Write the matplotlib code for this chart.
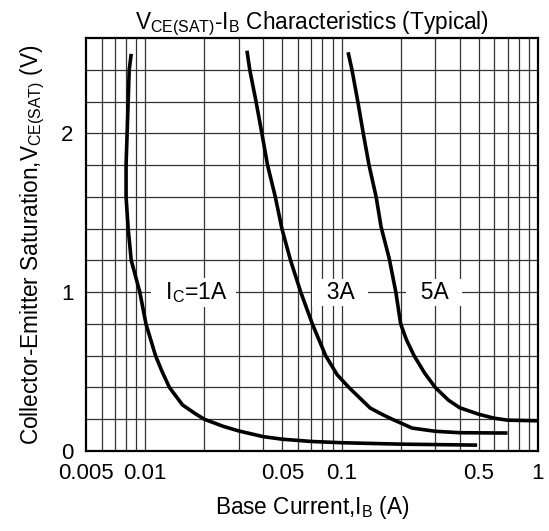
import matplotlib
matplotlib.use("Agg")
import matplotlib.pyplot as plt
from matplotlib.ticker import FixedLocator, NullFormatter

plt.rcParams["font.family"] = ["Liberation Sans", "DejaVu Sans"]
plt.rcParams["mathtext.default"] = "regular"

# Curves (IB in A, VCE(sat) in V)
ib_1a = [0.0085, 0.0083, 0.0082, 0.0081, 0.0080, 0.0080, 0.0082, 0.0085, 0.0094, 0.0101,
         0.0113, 0.0122, 0.0133, 0.0155, 0.0180, 0.0200, 0.0250, 0.030, 0.040, 0.050,
         0.070, 0.100, 0.200, 0.490]
vce_1a = [2.50, 2.40, 2.20, 2.00, 1.80, 1.60, 1.40, 1.20, 1.00, 0.80,
          0.60, 0.50, 0.40, 0.29, 0.235, 0.20, 0.155, 0.126, 0.090, 0.074,
          0.060, 0.052, 0.043, 0.037]

ib_3a = [0.0330, 0.0341, 0.0367, 0.0393, 0.0420, 0.0460, 0.0497, 0.0550, 0.0620, 0.0710,
         0.0830, 0.0950, 0.109, 0.140, 0.160, 0.181, 0.229, 0.30, 0.40, 0.70]
vce_3a = [2.52, 2.40, 2.20, 2.00, 1.80, 1.60, 1.40, 1.20, 1.00, 0.80,
          0.60, 0.48, 0.40, 0.27, 0.232, 0.20, 0.144, 0.124, 0.115, 0.113]

ib_5a = [0.108, 0.113, 0.121, 0.129, 0.138, 0.150, 0.159, 0.175, 0.189, 0.200,
         0.214, 0.234, 0.265, 0.30, 0.35, 0.40, 0.50, 0.60, 0.70, 1.00]
vce_5a = [2.51, 2.40, 2.20, 2.00, 1.80, 1.60, 1.41, 1.21, 1.00, 0.80,
          0.70, 0.60, 0.49, 0.40, 0.32, 0.272, 0.231, 0.206, 0.194, 0.19]

x_ticks = [0.005, 0.01, 0.05, 0.1, 0.5, 1]
x_tick_labels = ["0.005", "0.01", "0.05", "0.1", "0.5", "1"]
y_ticks = [0, 1, 2]
y_grid = [0.2, 0.4, 0.6, 0.8, 1.0, 1.2, 1.4, 1.6, 1.8, 2.0, 2.2, 2.4]
x_grid = [0.006, 0.007, 0.008, 0.009, 0.01,
          0.02, 0.03, 0.04, 0.05, 0.06, 0.07, 0.08, 0.09, 0.1,
          0.2, 0.3, 0.4, 0.5, 0.6, 0.7, 0.8, 0.9]

curve_labels = ["  $I_C$=1A  ", "  3A  ", "  5A  "]
label_x = [0.0177, 0.098, 0.295]

fig = plt.figure(figsize=(5.49, 5.31), dpi=100)
ax = fig.add_axes([0.1566, 0.1507, 0.8233, 0.7778])

ax.set_xscale("log")
ax.set_xlim(0.005, 1)
ax.set_ylim(0, 2.6)

# grid
for gx in x_grid:
    ax.axvline(gx, color="#333333", lw=0.9, zorder=1)
for gy in y_grid:
    ax.axhline(gy, color="#333333", lw=0.9, zorder=1)

for xs, ys in [(ib_1a, vce_1a), (ib_3a, vce_3a), (ib_5a, vce_5a)]:
    ax.plot(xs, ys, color="black", lw=2.6, zorder=3,
            solid_joinstyle="round", solid_capstyle="butt")

for lx, txt in zip(label_x, curve_labels):
    ax.text(lx, 1.0, txt, ha="center", va="center", fontsize=16.5, zorder=4,
            bbox=dict(facecolor="white", edgecolor="none", pad=1.5))

ax.xaxis.set_major_locator(FixedLocator(x_ticks))
ax.set_xticklabels(x_tick_labels)
ax.xaxis.set_minor_formatter(NullFormatter())
ax.set_yticks(y_ticks)
ax.tick_params(axis="both", which="both", length=0, labelsize=16)
ax.tick_params(axis="x", pad=9)
ax.tick_params(axis="y", pad=9)

for sp in ax.spines.values():
    sp.set_linewidth(1.6)

ax.set_title("$V_{CE(SAT)}$-$I_B$ Characteristics (Typical)", fontsize=16.3, pad=5)
ax.set_xlabel("Base Current,$I_B$ (A)", fontsize=16.3, labelpad=7)
ax.set_ylabel("Collector-Emitter Saturation,$V_{CE(SAT)}$ (V)", fontsize=16.3, labelpad=10)

fig.savefig("out.png", dpi=100)
